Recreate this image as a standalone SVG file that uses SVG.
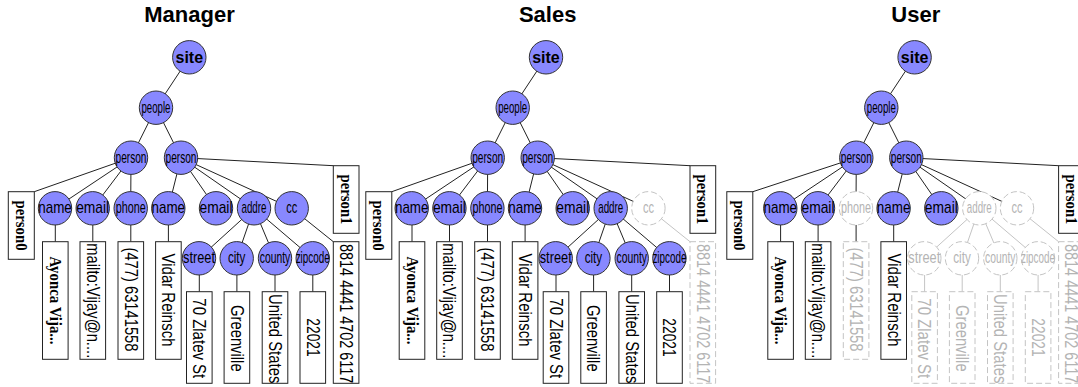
<svg xmlns="http://www.w3.org/2000/svg" width="1078" height="387" viewBox="0 0 1078 387">
  <style>
    .title { font-family: "Liberation Sans", Arial, sans-serif; font-size: 22px; font-weight: bold; text-anchor: middle; fill: #000; }
    .edges line { stroke: #222; stroke-width: 1; }
    .edges line.h { stroke: #c4c4c4; }
    .node circle { fill: #8888ff; stroke: #333; stroke-width: 1; }
    .node.h circle { fill: #fff; stroke: #c4c4c4; stroke-dasharray: 6 3; }
    .node text { font-family: "Liberation Sans", Arial, sans-serif; font-size: 17px; text-anchor: middle; fill: #000; }
    .node.h text { fill: #b4b4b4; }
    .node text.root { font-weight: bold; font-size: 16px; }
    .leaf rect { fill: #fff; stroke: #222; stroke-width: 1; }
    .leaf.h rect { stroke: #c4c4c4; stroke-dasharray: 6 3; }
    .leaf text { font-family: "Liberation Sans", Arial, sans-serif; font-size: 17.5px; text-anchor: middle; fill: #000; }
    .leaf.h text { fill: #b4b4b4; }
    .leaf text.key { font-family: "Liberation Serif", "Times New Roman", serif; font-weight: bold; font-size: 16px; }
  </style>

  <!-- ===================== Manager ===================== -->
  <g id="manager">
    <text class="title" x="189.5" y="22">Manager</text>
    <g id="m-edges" class="edges">
      <line x1="189.3" y1="57.3" x2="156" y2="107.7"/>
      <line x1="156" y1="107.7" x2="131" y2="157.7"/>
      <line x1="156" y1="107.7" x2="181" y2="157.7"/>
      <line x1="131" y1="157.7" x2="34.3" y2="191.7"/>
      <line x1="131" y1="157.7" x2="55" y2="208.3"/>
      <line x1="131" y1="157.7" x2="92.7" y2="208.3"/>
      <line x1="131" y1="157.7" x2="130.7" y2="208.3"/>
      <line x1="181" y1="157.7" x2="168.3" y2="208.3"/>
      <line x1="181" y1="157.7" x2="216" y2="208.3"/>
      <line x1="181" y1="157.7" x2="254" y2="208.3"/>
      <line x1="181" y1="157.7" x2="291.7" y2="208.3"/>
      <line x1="181" y1="157.7" x2="333.3" y2="165.7"/>
      <line x1="55.3" y1="208.3" x2="55.3" y2="241.7"/>
      <line x1="92.8" y1="208.3" x2="92.8" y2="241.7"/>
      <line x1="130.8" y1="208.3" x2="130.8" y2="241.7"/>
      <line x1="168.4" y1="208.3" x2="168.4" y2="241.7"/>
      <line x1="254" y1="208.3" x2="199" y2="258.3"/>
      <line x1="254" y1="208.3" x2="236.7" y2="258.3"/>
      <line x1="254" y1="208.3" x2="275" y2="258.3"/>
      <line x1="254" y1="208.3" x2="312.7" y2="258.3"/>
      <line x1="199.3" y1="258.3" x2="199.3" y2="291.7"/>
      <line x1="236.9" y1="258.3" x2="236.9" y2="291.7"/>
      <line x1="275" y1="258.3" x2="275" y2="291.7"/>
      <line x1="312.8" y1="258.3" x2="312.8" y2="291.7"/>
      <line x1="291.7" y1="208.3" x2="333.3" y2="241.7"/>
    </g>
    <g id="m-site" class="node"><circle cx="189.3" cy="57.3" r="16.7"/><text class="root" x="189.3" y="62.8">site</text></g>
    <g id="m-people" class="node"><circle cx="156" cy="107.7" r="16.7"/><text x="156" y="112.7" textLength="29" lengthAdjust="spacingAndGlyphs">people</text></g>
    <g id="m-person-a" class="node"><circle cx="131" cy="157.7" r="16.7"/><text x="131" y="162.7" textLength="31" lengthAdjust="spacingAndGlyphs">person</text></g>
    <g id="m-person-b" class="node"><circle cx="181" cy="157.7" r="16.7"/><text x="181" y="162.7" textLength="31" lengthAdjust="spacingAndGlyphs">person</text></g>
    <g id="m-person0" class="leaf"><rect x="8.3" y="191.7" width="26" height="67.6"/><text class="key" x="21.3" y="231" transform="rotate(90 21.3 225.5)" textLength="50" lengthAdjust="spacingAndGlyphs">person0</text></g>
    <g id="m-person1" class="leaf"><rect x="333.3" y="165.7" width="25.7" height="67.6"/><text class="key" x="346.2" y="205" transform="rotate(90 346.2 199.5)" textLength="50" lengthAdjust="spacingAndGlyphs">person1</text></g>
    <g id="m-name-a" class="node"><circle cx="55" cy="208.3" r="16.7"/><text x="55" y="213.3" textLength="33.5" lengthAdjust="spacingAndGlyphs">name</text></g>
    <g id="m-email-a" class="node"><circle cx="92.7" cy="208.3" r="16.7"/><text x="92.7" y="213.3" textLength="33" lengthAdjust="spacingAndGlyphs">email</text></g>
    <g id="m-phone" class="node"><circle cx="130.7" cy="208.3" r="16.7"/><text x="130.7" y="213.3" textLength="30" lengthAdjust="spacingAndGlyphs">phone</text></g>
    <g id="m-name-b" class="node"><circle cx="168.3" cy="208.3" r="16.7"/><text x="168.3" y="213.3" textLength="33.5" lengthAdjust="spacingAndGlyphs">name</text></g>
    <g id="m-email-b" class="node"><circle cx="216" cy="208.3" r="16.7"/><text x="216" y="213.3" textLength="33" lengthAdjust="spacingAndGlyphs">email</text></g>
    <g id="m-addre" class="node"><circle cx="254" cy="208.3" r="16.7"/><text x="254" y="213.3" textLength="25" lengthAdjust="spacingAndGlyphs">addre</text></g>
    <g id="m-cc" class="node"><circle cx="291.7" cy="208.3" r="16.7"/><text x="291.7" y="213.3" textLength="11" lengthAdjust="spacingAndGlyphs">cc</text></g>
    <g id="m-street" class="node"><circle cx="199" cy="258.3" r="16.7"/><text x="199" y="263.3" textLength="32" lengthAdjust="spacingAndGlyphs">street</text></g>
    <g id="m-city" class="node"><circle cx="236.7" cy="258.3" r="16.7"/><text x="236.7" y="263.3" textLength="17.5" lengthAdjust="spacingAndGlyphs">city</text></g>
    <g id="m-county" class="node"><circle cx="275" cy="258.3" r="16.7"/><text x="275" y="263.3" textLength="30.5" lengthAdjust="spacingAndGlyphs">county</text></g>
    <g id="m-zipcode" class="node"><circle cx="312.7" cy="258.3" r="16.7"/><text x="312.7" y="263.3" textLength="34" lengthAdjust="spacingAndGlyphs">zipcode</text></g>
    <g id="m-name-a-val" class="leaf"><rect x="42.5" y="241.7" width="25.6" height="117.6"/><text class="key" x="55.3" y="306" transform="rotate(90 55.3 300.5)" textLength="88" lengthAdjust="spacingAndGlyphs">Ayonca Vija...</text></g>
    <g id="m-email-a-val" class="leaf"><rect x="80" y="241.7" width="25.6" height="117.6"/><text x="92.8" y="307" transform="rotate(90 92.8 300.8)" textLength="115" lengthAdjust="spacingAndGlyphs">mailto:Vijay@n....</text></g>
    <g id="m-phone-val" class="leaf"><rect x="118" y="241.7" width="25.6" height="117.6"/><text x="130.8" y="305.7" transform="rotate(90 130.8 299.5)" textLength="104" lengthAdjust="spacingAndGlyphs">(477) 63141558</text></g>
    <g id="m-name-b-val" class="leaf"><rect x="155.6" y="241.7" width="25.6" height="117.6"/><text x="168.4" y="306.2" transform="rotate(90 168.4 300)" textLength="93" lengthAdjust="spacingAndGlyphs">Vidar Reinsch</text></g>
    <g id="m-street-val" class="leaf"><rect x="186.5" y="291.7" width="25.6" height="91.6"/><text x="199.3" y="344.5" transform="rotate(90 199.3 338.3)" textLength="80" lengthAdjust="spacingAndGlyphs">70 Zlatev St</text></g>
    <g id="m-city-val" class="leaf"><rect x="224.1" y="291.7" width="25.6" height="91.6"/><text x="236.9" y="344.5" transform="rotate(90 236.9 338.3)" textLength="66.7" lengthAdjust="spacingAndGlyphs">Greenville</text></g>
    <g id="m-county-val" class="leaf"><rect x="262.2" y="291.7" width="25.6" height="91.6"/><text x="275" y="344.9" transform="rotate(90 275 338.7)" textLength="89.3" lengthAdjust="spacingAndGlyphs">United States</text></g>
    <g id="m-zipcode-val" class="leaf"><rect x="300" y="291.7" width="25.6" height="91.6"/><text x="312.8" y="343.7" transform="rotate(90 312.8 337.5)" textLength="38.3" lengthAdjust="spacingAndGlyphs">22021</text></g>
    <g id="m-cc-val" class="leaf"><rect x="333.3" y="241.7" width="25.6" height="141.6"/><text x="346.1" y="319.9" transform="rotate(90 346.1 313.7)" textLength="139.3" lengthAdjust="spacingAndGlyphs">8814 4441 4702 6117</text></g>
  </g>

  <!-- ===================== Sales ===================== -->
  <g id="sales" transform="translate(356.7 0)">
    <text class="title" x="191" y="22">Sales</text>
    <g id="s-edges" class="edges">
      <line x1="189.3" y1="57.3" x2="156" y2="107.7"/>
      <line x1="156" y1="107.7" x2="131" y2="157.7"/>
      <line x1="156" y1="107.7" x2="181" y2="157.7"/>
      <line x1="131" y1="157.7" x2="35.1" y2="191.7"/>
      <line x1="131" y1="157.7" x2="55" y2="208.3"/>
      <line x1="131" y1="157.7" x2="92.7" y2="208.3"/>
      <line x1="131" y1="157.7" x2="130.7" y2="208.3"/>
      <line x1="181" y1="157.7" x2="168.3" y2="208.3"/>
      <line x1="181" y1="157.7" x2="216" y2="208.3"/>
      <line x1="181" y1="157.7" x2="254" y2="208.3"/>
      <line x1="181" y1="157.7" x2="291.7" y2="208.3"/>
      <line x1="181" y1="157.7" x2="333.3" y2="165.7"/>
      <line x1="55.3" y1="208.3" x2="55.3" y2="241.7"/>
      <line x1="92.8" y1="208.3" x2="92.8" y2="241.7"/>
      <line x1="130.8" y1="208.3" x2="130.8" y2="241.7"/>
      <line x1="168.4" y1="208.3" x2="168.4" y2="241.7"/>
      <line x1="254" y1="208.3" x2="199" y2="258.3"/>
      <line x1="254" y1="208.3" x2="236.7" y2="258.3"/>
      <line x1="254" y1="208.3" x2="275" y2="258.3"/>
      <line x1="254" y1="208.3" x2="312.7" y2="258.3"/>
      <line x1="199.3" y1="258.3" x2="199.3" y2="291.7"/>
      <line x1="236.9" y1="258.3" x2="236.9" y2="291.7"/>
      <line x1="275" y1="258.3" x2="275" y2="291.7"/>
      <line x1="312.8" y1="258.3" x2="312.8" y2="291.7"/>
      <line class="h" x1="291.7" y1="208.3" x2="333.3" y2="241.7"/>
    </g>
    <g id="s-site" class="node"><circle cx="189.3" cy="57.3" r="16.7"/><text class="root" x="189.3" y="62.8">site</text></g>
    <g id="s-people" class="node"><circle cx="156" cy="107.7" r="16.7"/><text x="156" y="112.7" textLength="29" lengthAdjust="spacingAndGlyphs">people</text></g>
    <g id="s-person-a" class="node"><circle cx="131" cy="157.7" r="16.7"/><text x="131" y="162.7" textLength="31" lengthAdjust="spacingAndGlyphs">person</text></g>
    <g id="s-person-b" class="node"><circle cx="181" cy="157.7" r="16.7"/><text x="181" y="162.7" textLength="31" lengthAdjust="spacingAndGlyphs">person</text></g>
    <g id="s-person0" class="leaf"><rect x="9.1" y="191.7" width="26" height="67.6"/><text class="key" x="22.1" y="231" transform="rotate(90 22.1 225.5)" textLength="50" lengthAdjust="spacingAndGlyphs">person0</text></g>
    <g id="s-person1" class="leaf"><rect x="333.3" y="165.7" width="25.7" height="67.6"/><text class="key" x="346.2" y="205" transform="rotate(90 346.2 199.5)" textLength="50" lengthAdjust="spacingAndGlyphs">person1</text></g>
    <g id="s-name-a" class="node"><circle cx="55" cy="208.3" r="16.7"/><text x="55" y="213.3" textLength="33.5" lengthAdjust="spacingAndGlyphs">name</text></g>
    <g id="s-email-a" class="node"><circle cx="92.7" cy="208.3" r="16.7"/><text x="92.7" y="213.3" textLength="33" lengthAdjust="spacingAndGlyphs">email</text></g>
    <g id="s-phone" class="node"><circle cx="130.7" cy="208.3" r="16.7"/><text x="130.7" y="213.3" textLength="30" lengthAdjust="spacingAndGlyphs">phone</text></g>
    <g id="s-name-b" class="node"><circle cx="168.3" cy="208.3" r="16.7"/><text x="168.3" y="213.3" textLength="33.5" lengthAdjust="spacingAndGlyphs">name</text></g>
    <g id="s-email-b" class="node"><circle cx="216" cy="208.3" r="16.7"/><text x="216" y="213.3" textLength="33" lengthAdjust="spacingAndGlyphs">email</text></g>
    <g id="s-addre" class="node"><circle cx="254" cy="208.3" r="16.7"/><text x="254" y="213.3" textLength="25" lengthAdjust="spacingAndGlyphs">addre</text></g>
    <g id="s-cc" class="node h"><circle cx="291.7" cy="208.3" r="16.7"/><text x="291.7" y="213.3" textLength="11" lengthAdjust="spacingAndGlyphs">cc</text></g>
    <g id="s-street" class="node"><circle cx="199" cy="258.3" r="16.7"/><text x="199" y="263.3" textLength="32" lengthAdjust="spacingAndGlyphs">street</text></g>
    <g id="s-city" class="node"><circle cx="236.7" cy="258.3" r="16.7"/><text x="236.7" y="263.3" textLength="17.5" lengthAdjust="spacingAndGlyphs">city</text></g>
    <g id="s-county" class="node"><circle cx="275" cy="258.3" r="16.7"/><text x="275" y="263.3" textLength="30.5" lengthAdjust="spacingAndGlyphs">county</text></g>
    <g id="s-zipcode" class="node"><circle cx="312.7" cy="258.3" r="16.7"/><text x="312.7" y="263.3" textLength="34" lengthAdjust="spacingAndGlyphs">zipcode</text></g>
    <g id="s-name-a-val" class="leaf"><rect x="42.5" y="241.7" width="25.6" height="117.6"/><text class="key" x="55.3" y="306" transform="rotate(90 55.3 300.5)" textLength="88" lengthAdjust="spacingAndGlyphs">Ayonca Vija...</text></g>
    <g id="s-email-a-val" class="leaf"><rect x="80" y="241.7" width="25.6" height="117.6"/><text x="92.8" y="307" transform="rotate(90 92.8 300.8)" textLength="115" lengthAdjust="spacingAndGlyphs">mailto:Vijay@n....</text></g>
    <g id="s-phone-val" class="leaf"><rect x="118" y="241.7" width="25.6" height="117.6"/><text x="130.8" y="305.7" transform="rotate(90 130.8 299.5)" textLength="104" lengthAdjust="spacingAndGlyphs">(477) 63141558</text></g>
    <g id="s-name-b-val" class="leaf"><rect x="155.6" y="241.7" width="25.6" height="117.6"/><text x="168.4" y="306.2" transform="rotate(90 168.4 300)" textLength="93" lengthAdjust="spacingAndGlyphs">Vidar Reinsch</text></g>
    <g id="s-street-val" class="leaf"><rect x="186.5" y="291.7" width="25.6" height="91.6"/><text x="199.3" y="344.5" transform="rotate(90 199.3 338.3)" textLength="80" lengthAdjust="spacingAndGlyphs">70 Zlatev St</text></g>
    <g id="s-city-val" class="leaf"><rect x="224.1" y="291.7" width="25.6" height="91.6"/><text x="236.9" y="344.5" transform="rotate(90 236.9 338.3)" textLength="66.7" lengthAdjust="spacingAndGlyphs">Greenville</text></g>
    <g id="s-county-val" class="leaf"><rect x="262.2" y="291.7" width="25.6" height="91.6"/><text x="275" y="344.9" transform="rotate(90 275 338.7)" textLength="89.3" lengthAdjust="spacingAndGlyphs">United States</text></g>
    <g id="s-zipcode-val" class="leaf"><rect x="300" y="291.7" width="25.6" height="91.6"/><text x="312.8" y="343.7" transform="rotate(90 312.8 337.5)" textLength="38.3" lengthAdjust="spacingAndGlyphs">22021</text></g>
    <g id="s-cc-val" class="leaf h"><rect x="333.3" y="241.7" width="25.6" height="141.6"/><text x="346.1" y="319.9" transform="rotate(90 346.1 313.7)" textLength="139.3" lengthAdjust="spacingAndGlyphs">8814 4441 4702 6117</text></g>
  </g>

  <!-- ===================== User ===================== -->
  <g id="user" transform="translate(725.3 0)">
    <text class="title" x="190.5" y="22">User</text>
    <g id="u-edges" class="edges">
      <line x1="189.3" y1="57.3" x2="156" y2="107.7"/>
      <line x1="156" y1="107.7" x2="131" y2="157.7"/>
      <line x1="156" y1="107.7" x2="181" y2="157.7"/>
      <line x1="131" y1="157.7" x2="27.5" y2="191.7"/>
      <line x1="131" y1="157.7" x2="55" y2="208.3"/>
      <line x1="131" y1="157.7" x2="92.7" y2="208.3"/>
      <line x1="131" y1="157.7" x2="130.7" y2="208.3"/>
      <line x1="181" y1="157.7" x2="168.3" y2="208.3"/>
      <line x1="181" y1="157.7" x2="216" y2="208.3"/>
      <line x1="181" y1="157.7" x2="254" y2="208.3"/>
      <line x1="181" y1="157.7" x2="291.7" y2="208.3"/>
      <line x1="181" y1="157.7" x2="333.3" y2="165.7"/>
      <line x1="55.3" y1="208.3" x2="55.3" y2="241.7"/>
      <line x1="92.8" y1="208.3" x2="92.8" y2="241.7"/>
      <line x1="130.8" y1="208.3" x2="130.8" y2="241.7"/>
      <line x1="168.4" y1="208.3" x2="168.4" y2="241.7"/>
      <line class="h" x1="254" y1="208.3" x2="199" y2="258.3"/>
      <line class="h" x1="254" y1="208.3" x2="236.7" y2="258.3"/>
      <line class="h" x1="254" y1="208.3" x2="275" y2="258.3"/>
      <line class="h" x1="254" y1="208.3" x2="312.7" y2="258.3"/>
      <line class="h" x1="199.3" y1="258.3" x2="199.3" y2="291.7"/>
      <line class="h" x1="236.9" y1="258.3" x2="236.9" y2="291.7"/>
      <line class="h" x1="275" y1="258.3" x2="275" y2="291.7"/>
      <line class="h" x1="312.8" y1="258.3" x2="312.8" y2="291.7"/>
      <line class="h" x1="291.7" y1="208.3" x2="333.3" y2="241.7"/>
    </g>
    <g id="u-site" class="node"><circle cx="189.3" cy="57.3" r="16.7"/><text class="root" x="189.3" y="62.8">site</text></g>
    <g id="u-people" class="node"><circle cx="156" cy="107.7" r="16.7"/><text x="156" y="112.7" textLength="29" lengthAdjust="spacingAndGlyphs">people</text></g>
    <g id="u-person-a" class="node"><circle cx="131" cy="157.7" r="16.7"/><text x="131" y="162.7" textLength="31" lengthAdjust="spacingAndGlyphs">person</text></g>
    <g id="u-person-b" class="node"><circle cx="181" cy="157.7" r="16.7"/><text x="181" y="162.7" textLength="31" lengthAdjust="spacingAndGlyphs">person</text></g>
    <g id="u-person0" class="leaf"><rect x="1.5" y="191.7" width="26" height="67.6"/><text class="key" x="14.5" y="231" transform="rotate(90 14.5 225.5)" textLength="50" lengthAdjust="spacingAndGlyphs">person0</text></g>
    <g id="u-person1" class="leaf"><rect x="333.3" y="165.7" width="25.7" height="67.6"/><text class="key" x="346.2" y="205" transform="rotate(90 346.2 199.5)" textLength="50" lengthAdjust="spacingAndGlyphs">person1</text></g>
    <g id="u-name-a" class="node"><circle cx="55" cy="208.3" r="16.7"/><text x="55" y="213.3" textLength="33.5" lengthAdjust="spacingAndGlyphs">name</text></g>
    <g id="u-email-a" class="node"><circle cx="92.7" cy="208.3" r="16.7"/><text x="92.7" y="213.3" textLength="33" lengthAdjust="spacingAndGlyphs">email</text></g>
    <g id="u-phone" class="node h"><circle cx="130.7" cy="208.3" r="16.7"/><text x="130.7" y="213.3" textLength="30" lengthAdjust="spacingAndGlyphs">phone</text></g>
    <g id="u-name-b" class="node"><circle cx="168.3" cy="208.3" r="16.7"/><text x="168.3" y="213.3" textLength="33.5" lengthAdjust="spacingAndGlyphs">name</text></g>
    <g id="u-email-b" class="node"><circle cx="216" cy="208.3" r="16.7"/><text x="216" y="213.3" textLength="33" lengthAdjust="spacingAndGlyphs">email</text></g>
    <g id="u-addre" class="node h"><circle cx="254" cy="208.3" r="16.7"/><text x="254" y="213.3" textLength="25" lengthAdjust="spacingAndGlyphs">addre</text></g>
    <g id="u-cc" class="node h"><circle cx="291.7" cy="208.3" r="16.7"/><text x="291.7" y="213.3" textLength="11" lengthAdjust="spacingAndGlyphs">cc</text></g>
    <g id="u-street" class="node h"><circle cx="199" cy="258.3" r="16.7"/><text x="199" y="263.3" textLength="32" lengthAdjust="spacingAndGlyphs">street</text></g>
    <g id="u-city" class="node h"><circle cx="236.7" cy="258.3" r="16.7"/><text x="236.7" y="263.3" textLength="17.5" lengthAdjust="spacingAndGlyphs">city</text></g>
    <g id="u-county" class="node h"><circle cx="275" cy="258.3" r="16.7"/><text x="275" y="263.3" textLength="30.5" lengthAdjust="spacingAndGlyphs">county</text></g>
    <g id="u-zipcode" class="node h"><circle cx="312.7" cy="258.3" r="16.7"/><text x="312.7" y="263.3" textLength="34" lengthAdjust="spacingAndGlyphs">zipcode</text></g>
    <g id="u-name-a-val" class="leaf"><rect x="42.5" y="241.7" width="25.6" height="117.6"/><text class="key" x="55.3" y="306" transform="rotate(90 55.3 300.5)" textLength="88" lengthAdjust="spacingAndGlyphs">Ayonca Vija...</text></g>
    <g id="u-email-a-val" class="leaf"><rect x="80" y="241.7" width="25.6" height="117.6"/><text x="92.8" y="307" transform="rotate(90 92.8 300.8)" textLength="115" lengthAdjust="spacingAndGlyphs">mailto:Vijay@n....</text></g>
    <g id="u-phone-val" class="leaf h"><rect x="118" y="241.7" width="25.6" height="117.6"/><text x="130.8" y="305.7" transform="rotate(90 130.8 299.5)" textLength="104" lengthAdjust="spacingAndGlyphs">(477) 63141558</text></g>
    <g id="u-name-b-val" class="leaf"><rect x="155.6" y="241.7" width="25.6" height="117.6"/><text x="168.4" y="306.2" transform="rotate(90 168.4 300)" textLength="93" lengthAdjust="spacingAndGlyphs">Vidar Reinsch</text></g>
    <g id="u-street-val" class="leaf h"><rect x="186.5" y="291.7" width="25.6" height="91.6"/><text x="199.3" y="344.5" transform="rotate(90 199.3 338.3)" textLength="80" lengthAdjust="spacingAndGlyphs">70 Zlatev St</text></g>
    <g id="u-city-val" class="leaf h"><rect x="224.1" y="291.7" width="25.6" height="91.6"/><text x="236.9" y="344.5" transform="rotate(90 236.9 338.3)" textLength="66.7" lengthAdjust="spacingAndGlyphs">Greenville</text></g>
    <g id="u-county-val" class="leaf h"><rect x="262.2" y="291.7" width="25.6" height="91.6"/><text x="275" y="344.9" transform="rotate(90 275 338.7)" textLength="89.3" lengthAdjust="spacingAndGlyphs">United States</text></g>
    <g id="u-zipcode-val" class="leaf h"><rect x="300" y="291.7" width="25.6" height="91.6"/><text x="312.8" y="343.7" transform="rotate(90 312.8 337.5)" textLength="38.3" lengthAdjust="spacingAndGlyphs">22021</text></g>
    <g id="u-cc-val" class="leaf h"><rect x="333.3" y="241.7" width="25.6" height="141.6"/><text x="346.1" y="319.9" transform="rotate(90 346.1 313.7)" textLength="139.3" lengthAdjust="spacingAndGlyphs">8814 4441 4702 6117</text></g>
  </g>
</svg>
